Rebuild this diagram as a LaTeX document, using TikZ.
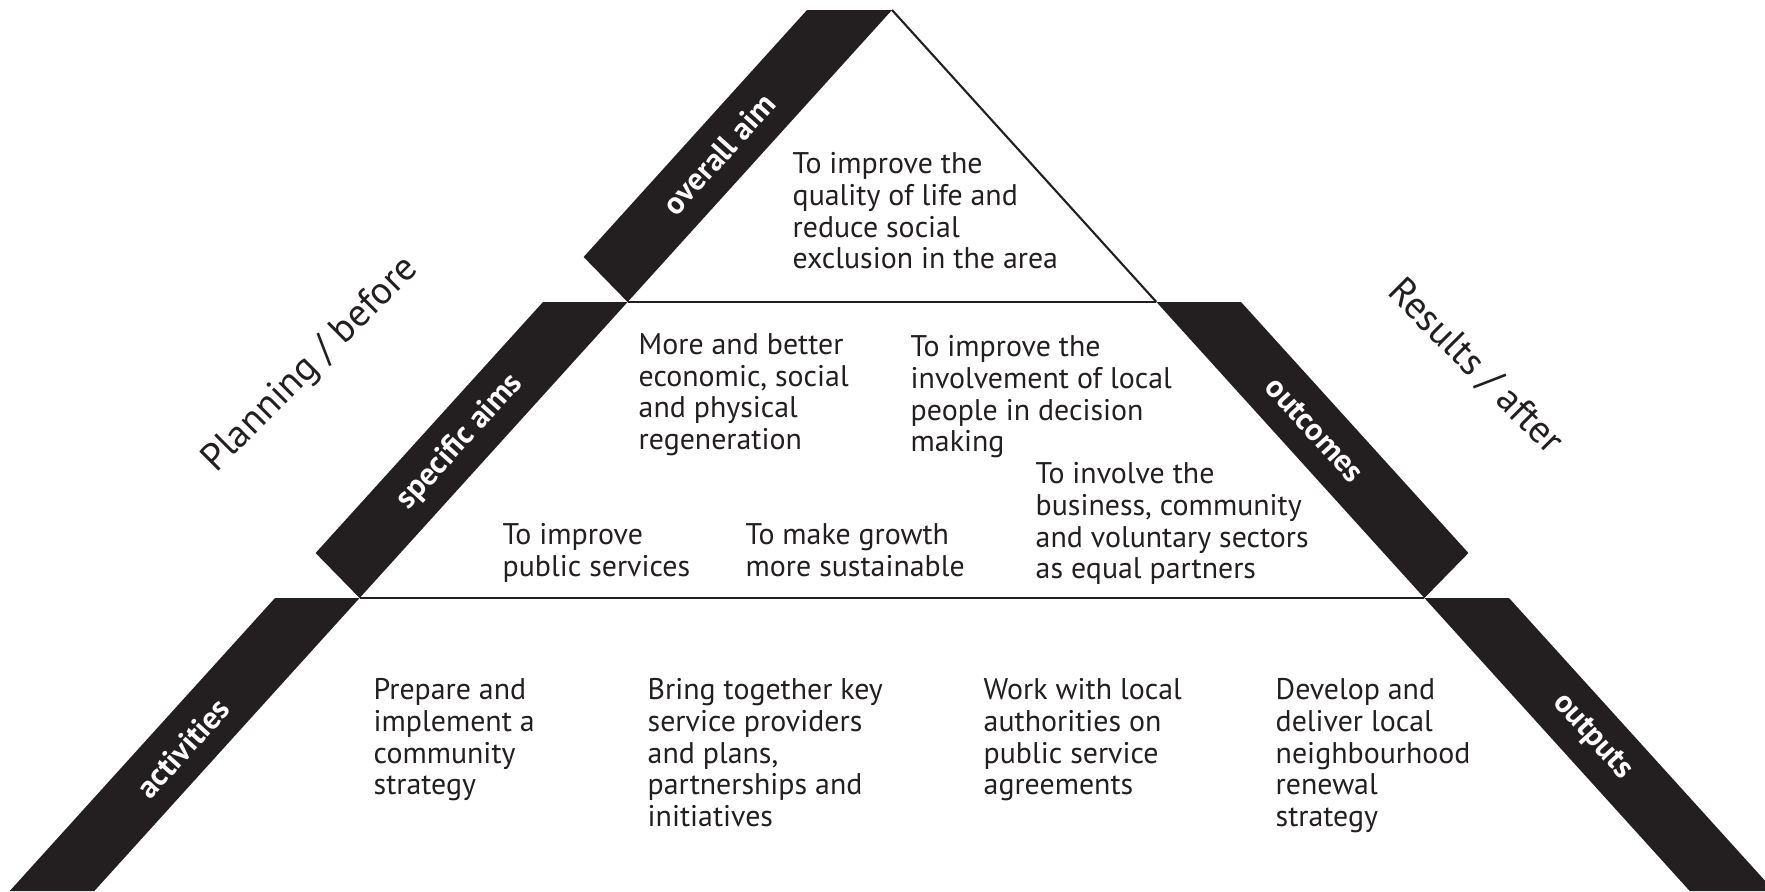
\documentclass[tikz,border=0pt]{standalone}
\usepackage{fontspec}
\setmainfont{PT Sans}
\definecolor{inkblack}{HTML}{231F20}
\tikzset{
  band/.style={fill=inkblack},
  bandlabel/.style={text=white, inner sep=0pt, font=\fontsize{9}{10}\selectfont\bfseries},
  boxtext/.style={anchor=north west, inner sep=0pt, align=left, text=inkblack, font=\fontsize{8.5}{9}\selectfont},
  sidetext/.style={text=inkblack, inner sep=0pt, font=\fontsize{11}{12}\selectfont},
  rule/.style={draw=inkblack, line width=0.6pt}
}
\begin{document}
\begin{tikzpicture}
\useasboundingbox (0,0) rectangle (17.65,8.91);
\clip (0,0) rectangle (17.65,8.91);
\draw[rule] (8.92,8.81) -- (11.564,5.89);
\draw[rule] (6.276,5.89) -- (11.564,5.89);
\draw[rule] (3.596,2.93) -- (14.244,2.93);
\fill[band] (8.07,8.81) -- (8.92,8.81) -- (6.276,5.89) -- (5.836,6.34) -- cycle;
\fill[band] (5.43,5.89) -- (6.276,5.89) -- (3.596,2.93) -- (3.156,3.38) -- cycle;
\fill[band] (2.75,2.93) -- (3.596,2.93) -- (0.943,0) -- (0.097,0) -- cycle;
\fill[band] (12.41,5.89) -- (11.564,5.89) -- (14.244,2.93) -- (14.684,3.38) -- cycle;
\fill[band] (15.09,2.93) -- (14.244,2.93) -- (16.897,0) -- (17.743,0) -- cycle;
\node[bandlabel, rotate=47.84] (overall) at (7.19,7.37) {overall aim};
\node[bandlabel, rotate=47.84] (specific) at (4.60,4.49) {specific aims};
\node[bandlabel, rotate=-47.84] (outcomes) at (13.145,4.61) {outcomes};
\node[bandlabel, rotate=47.84] (activities) at (1.83,1.43) {activities};
\node[bandlabel, rotate=-47.84] (outputs) at (15.92,1.54) {outputs};
\node[sidetext, rotate=45] (planning) at (3.11,5.26) {Planning / before};
\node[sidetext, rotate=-45] (results) at (14.75,5.24) {Results / after};
\node[boxtext] (quality) at (7.92,7.39) {To improve the\\quality of life and\\reduce social\\exclusion in the area};
\node[boxtext] (regen) at (6.38,5.58) {More and better\\economic, social\\and physical\\regeneration};
\node[boxtext] (involve) at (9.10,5.56) {To improve the\\involvement of local\\people in decision\\making};
\node[boxtext] (partners) at (10.35,4.29) {To involve the\\business, community\\and voluntary sectors\\as equal partners};
\node[boxtext] (services) at (5.02,3.68) {To improve\\public services};
\node[boxtext] (growth) at (7.45,3.68) {To make growth\\more sustainable};
\node[boxtext] (prepare) at (3.73,2.13) {Prepare and\\implement a\\community\\strategy};
\node[boxtext] (bring) at (6.47,2.13) {Bring together key\\service providers\\and plans,\\partnerships and\\initiatives};
\node[boxtext] (work) at (9.83,2.13) {Work with local\\authorities on\\public service\\agreements};
\node[boxtext] (develop) at (12.75,2.13) {Develop and\\deliver local\\neighbourhood\\renewal\\strategy};
\end{tikzpicture}
\end{document}
